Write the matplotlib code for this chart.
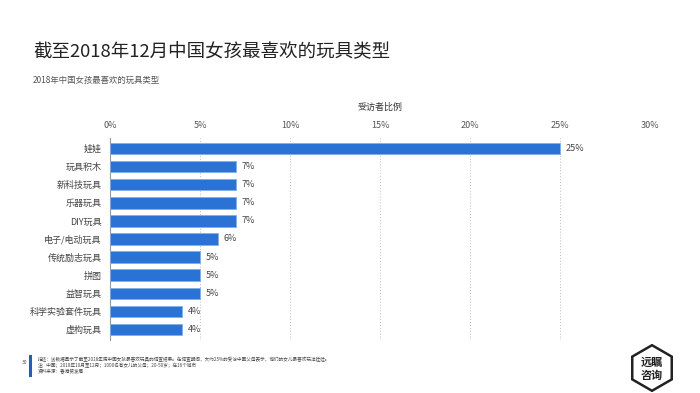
import matplotlib
matplotlib.use('Agg')
import matplotlib.pyplot as plt
from matplotlib.patches import RegularPolygon

plt.rcParams['font.family'] = ['Noto Sans CJK SC', 'DejaVu Sans']

categories = ['娃娃', '玩具积木', '新科技玩具', '乐器玩具', 'DIY玩具', '电子/电动玩具',
              '传统励志玩具', '拼图', '益智玩具', '科学实验套件玩具', '虚构玩具']
values = [25, 7, 7, 7, 7, 6, 5, 5, 5, 4, 4]
xticks = [0, 5, 10, 15, 20, 25, 30]

W, H = 700, 393
fig = plt.figure(figsize=(7, 3.93), dpi=100)
ax = fig.add_axes([110 / W, 1 - 340 / H, 540 / W, 202 / H])

y = list(range(len(categories)))
ax.barh(y, values, height=0.62, color='#2a72d4', edgecolor='#7fb0ea', linewidth=0.6, zorder=3)
for yi, v in zip(y, values):
    ax.text(v + 0.3, yi, f'{v}%', va='center', ha='left', fontsize=6.5, color='#444444')

ax.set_xlim(0, 30)
ax.set_ylim(len(categories) - 0.4, -0.6)
ax.set_yticks(y)
ax.set_yticklabels(categories, fontsize=6.5, color='#444444')
ax.set_xticks(xticks)
ax.set_xticklabels([f'{t}%' for t in xticks], fontsize=6.5, color='#555555')
ax.xaxis.tick_top()
ax.tick_params(axis='both', length=0, pad=6)
ax.xaxis.set_label_position('top')
ax.set_xlabel('受访者比例', fontsize=6.5, color='#333333', labelpad=8)
ax.grid(axis='x', linestyle=(0, (1, 2)), color='#bbbbbb', linewidth=0.7, zorder=0)
for s in ['top', 'right', 'bottom']:
    ax.spines[s].set_visible(False)
ax.spines['left'].set_color('#999999')
ax.spines['left'].set_linewidth(0.8)

# titles
fig.text(33 / W, 1 - 52 / H, '截至2018年12月中国女孩最喜欢的玩具类型', fontsize=13.3,
         color='#222222', va='center', ha='left')
fig.text(33 / W, 1 - 80 / H, '2018年中国女孩最喜欢的玩具类型', fontsize=6,
         color='#555555', va='center', ha='left')

# footnote
fig.text(22 / W, 1 - 362 / H, '30', fontsize=3.5, color='#555555', va='center')
fig.add_artist(plt.Line2D([30 / W, 30 / W], [1 - 356 / H, 1 - 375 / H], color='#1f5fb4', linewidth=2.2))
notes = ['描述：该数据显示了截至2018年底中国女孩最喜欢玩具的调查结果。在调查期间，大约25%的受访中国父母表示，他们的女儿最喜欢玩洋娃娃。',
         '注：中国；2018年10月至12月；1000名有女儿的父母；20-50岁；在16个城市',
         '资料来源：香港贸发局']
for i, n in enumerate(notes):
    fig.text(38 / W, 1 - (359 + i * 6) / H, n, fontsize=3.3, color='#444444', va='center')

# logo
lax = fig.add_axes([628 / W, 1 - 392 / H, 48 / W, 48 / H])
lax.set_xlim(-1, 1)
lax.set_ylim(-1, 1)
lax.axis('off')
lax.add_patch(RegularPolygon((0, 0), numVertices=6, radius=0.95, orientation=0,
                             facecolor='white', edgecolor='#222222', linewidth=1.8))
lax.text(0, 0.25, '远瞩', fontsize=8, ha='center', va='center', color='#222222', weight='bold')
lax.text(0, -0.3, '咨询', fontsize=8, ha='center', va='center', color='#222222', weight='bold')

fig.savefig('out.png', dpi=100)
